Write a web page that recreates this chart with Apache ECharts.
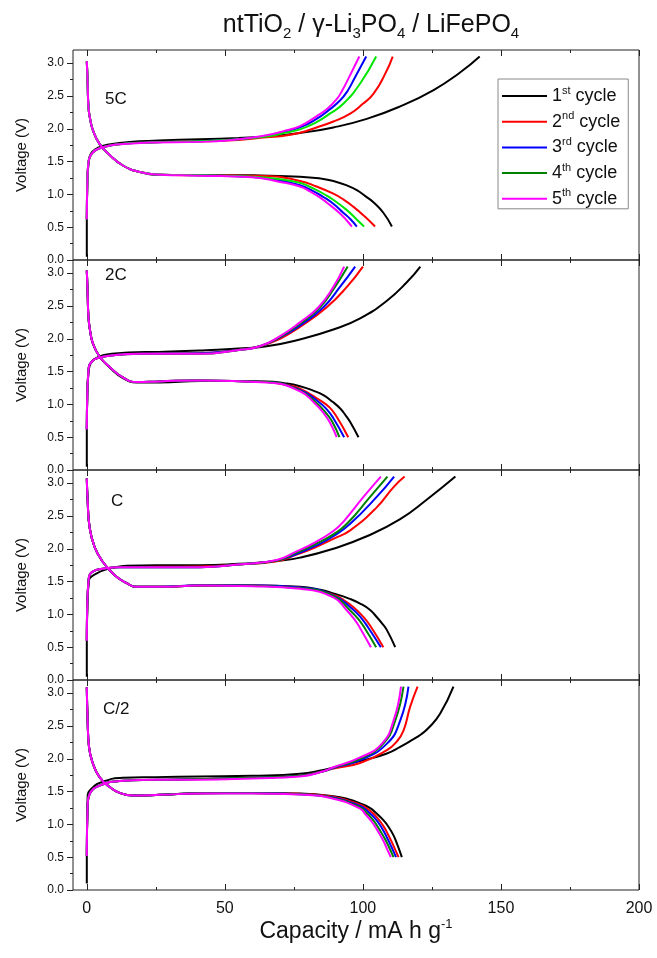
<!DOCTYPE html>
<html><head><meta charset="utf-8">
<script src="https://cdn.jsdelivr.net/npm/echarts@6/dist/echarts.min.js"></script>
<style>html,body{margin:0;padding:0;background:#fff}#c{width:657px;height:958px}</style>
</head><body><div id="c"></div>
<script>
const F = 'Liberation Sans, Arial, sans-serif';
const panels = ['5C', '2C', 'C', 'C/2'];
const cycleNames = ['1st cycle', '2nd cycle', '3rd cycle', '4th cycle', '5th cycle'];
const cycleSup = [['1','st'], ['2','nd'], ['3','rd'], ['4','th'], ['5','th']];
const xTicksMajor = [0, 50, 100, 150, 200];
const xTicksMinor = [25, 75, 125, 175];
const yTicksMajor = [0, 0.5, 1, 1.5, 2, 2.5, 3];
const yTicksMinor = [0.25, 0.75, 1.25, 1.75, 2.25, 2.75];
const colors_5C = ['#000000', '#ff0000', '#0000ff', '#00e600', '#ff00ff'];
const colors_other = ['#000000', '#ff0000', '#0000ff', '#008000', '#ff00ff'];

// ---- 5C ----
const chargeStart_5C = [[0,0.62],[0.2,1.2],[0.5,1.45],[1,1.56],[2,1.63],[3.4,1.68],[6,1.72],[10.7,1.76],[22.8,1.79]];
const dischargeStart_5C = [[0,3.03],[0.3,2.7],[0.6,2.33],[1.2,2.15],[2.2,1.98],[4.6,1.77],[8.3,1.60],[13.1,1.44],[19.2,1.34],[26.4,1.30]];
const charge_5C = [
  [[0,0.05],[0,0.6],[0.2,1.2],[0.6,1.45],[1,1.57],[2,1.65],[4.6,1.72],[8,1.76],[15.5,1.80],[26,1.82],[41,1.84],[55,1.86],[65,1.88],[77.2,1.935],[89.3,2.02],[101.4,2.15],[113.5,2.34],[125.6,2.59],[135.3,2.86],[142.3,3.10]],
  chargeStart_5C.concat([[41,1.81],[55,1.83],[65,1.87],[71,1.89],[77.2,1.94],[83.2,2.02],[89.3,2.11],[95.4,2.23],[100,2.38],[103.8,2.53],[108.1,2.84],[110.8,3.10]]),
  chargeStart_5C.concat([[41,1.81],[55,1.84],[65,1.89],[71,1.95],[77.2,2.02],[83.2,2.15],[87.5,2.28],[91.7,2.43],[94.5,2.58],[97.2,2.79],[101.2,3.10]]),
  chargeStart_5C.concat([[41,1.81],[55,1.84],[65,1.88],[71,1.93],[77.2,1.99],[83.2,2.10],[88,2.23],[92.9,2.38],[99,2.69],[104.8,3.10]]),
  chargeStart_5C.concat([[41,1.80],[55,1.84],[65,1.90],[71,1.96],[77.2,2.04],[83.2,2.19],[87,2.30],[90.5,2.45],[92.6,2.59],[94.7,2.76],[98.7,3.10]])
];
const discharge_5C = [
  dischargeStart_5C.concat([[41,1.295],[60,1.29],[77.2,1.27],[85,1.24],[89.3,1.205],[94,1.14],[97.8,1.064],[101,0.97],[103.8,0.88],[107.4,0.72],[110.5,0.51]]),
  dischargeStart_5C.concat([[41,1.29],[65.1,1.28],[77.2,1.205],[83.2,1.12],[89.3,1.01],[93,0.92],[96.6,0.81],[100.5,0.67],[104.4,0.51]]),
  dischargeStart_5C.concat([[41,1.29],[60,1.265],[70,1.21],[77.2,1.14],[82,1.05],[85.7,0.96],[89.5,0.85],[92.9,0.72],[95.5,0.62],[97.8,0.51]]),
  dischargeStart_5C.concat([[41,1.29],[60,1.27],[70,1.23],[77.2,1.175],[82,1.09],[86.9,0.98],[90.5,0.88],[94.2,0.76],[97.5,0.63],[100.4,0.51]]),
  dischargeStart_5C.concat([[41,1.285],[60,1.26],[70,1.19],[77.2,1.12],[81,1.04],[84.5,0.95],[88,0.84],[91.7,0.71],[94,0.61],[96,0.51]])
];

// ---- 2C ----
const chargeStart_2C = [[0,0.62],[0.2,1.2],[0.5,1.45],[0.8,1.58],[2,1.66],[3.4,1.70],[9.5,1.75],[20,1.77]];
const dischargeStart_2C = [[0,3.04],[0.3,2.7],[0.6,2.33],[1.2,2.12],[2.2,1.93],[4.6,1.73],[8.3,1.57],[13.1,1.41],[18,1.34],[26.4,1.35]];
const charge_2C = [
  [[0,0.05],[0,0.6],[0.2,1.2],[0.6,1.48],[1,1.58],[2,1.66],[4.6,1.73],[9,1.77],[15,1.79],[26,1.80],[41,1.82],[55,1.85],[65.1,1.885],[77.2,1.99],[89.3,2.14],[99,2.31],[108.7,2.58],[115.9,2.86],[120.8,3.10]],
  chargeStart_2C.concat([[41,1.78],[55,1.83],[62.7,1.885],[70,2.00],[77.2,2.18],[86.9,2.48],[94.2,2.79],[100,3.10]]),
  chargeStart_2C.concat([[41,1.78],[55,1.83],[62.7,1.885],[70,2.02],[77.2,2.20],[85.7,2.48],[91.7,2.79],[97.2,3.10]]),
  chargeStart_2C.concat([[41,1.77],[55,1.83],[62.7,1.885],[70,2.03],[77.2,2.23],[84.5,2.48],[89.9,2.79],[94.5,3.10]]),
  chargeStart_2C.concat([[41,1.77],[55,1.83],[62.7,1.885],[70,2.04],[77.2,2.25],[83.9,2.48],[89.3,2.79],[93.2,3.10]])
];
const discharge_2C = [
  [[0,3.04],[0.3,2.7],[0.6,2.33],[1.2,2.12],[2.2,1.93],[4.6,1.73],[8.3,1.56],[13.1,1.40],[18,1.335],[26.4,1.335],[41,1.355],[65,1.35],[72,1.32],[77.2,1.277],[82,1.21],[85.7,1.14],[89,1.04],[91.7,0.94],[93.8,0.83],[95.4,0.73],[98.4,0.50]],
  dischargeStart_2C.concat([[41,1.365],[65,1.34],[72,1.30],[77.2,1.24],[84.5,1.06],[88,0.95],[90.5,0.81],[94.7,0.50]]),
  dischargeStart_2C.concat([[41,1.365],[65,1.34],[77.2,1.22],[83.9,1.04],[87,0.92],[89.3,0.79],[93.2,0.50]]),
  dischargeStart_2C.concat([[41,1.365],[65,1.34],[77.2,1.21],[83.2,1.02],[86,0.90],[88.7,0.75],[91.5,0.50]]),
  dischargeStart_2C.concat([[41,1.365],[65,1.335],[77.2,1.20],[82.7,1.01],[85.5,0.88],[88.1,0.72],[90.5,0.50]])
];

// ---- C ----
const chargeStart_C = [[0,0.6],[0.2,1.2],[0.6,1.5],[1,1.6],[2.5,1.66],[5,1.69],[12,1.72]];
const dischargeStart_C = [[0,3.07],[0.3,2.74],[1,2.33],[2.8,2.03],[5.8,1.80],[10,1.60],[14.3,1.48],[18,1.42],[26.4,1.42]];
const charge_C = [
  [[0,0.05],[0,0.58],[0.2,1.1],[0.8,1.52],[1.5,1.57],[3.4,1.62],[6,1.67],[9.5,1.71],[14.3,1.74],[25,1.75],[41,1.75],[55,1.77],[65.1,1.80],[68.8,1.815],[77.2,1.865],[89.3,2.00],[101.4,2.19],[113.5,2.45],[123.2,2.75],[133.5,3.10]],
  chargeStart_C.concat([[41,1.73],[55,1.76],[68.8,1.81],[76,1.91],[83.2,2.03],[89.3,2.15],[95.4,2.28],[105,2.63],[111.1,2.94],[115.1,3.10]]),
  chargeStart_C.concat([[41,1.72],[55,1.76],[68.8,1.82],[76,1.92],[83.2,2.05],[89.3,2.19],[95.4,2.38],[105,2.79],[111.3,3.10]]),
  chargeStart_C.concat([[41,1.72],[55,1.76],[68.8,1.82],[76,1.94],[83.2,2.08],[89.3,2.22],[94.2,2.38],[102.6,2.79],[108.9,3.10]]),
  chargeStart_C.concat([[41,1.72],[55,1.76],[68.8,1.83],[76,1.96],[83.2,2.11],[89.3,2.27],[92.9,2.41],[100.2,2.79],[106.5,3.10]])
];
const discharge_C = [
  dischargeStart_C.concat([[41,1.44],[60,1.44],[77.2,1.42],[85,1.37],[89.3,1.32],[95,1.24],[99,1.165],[102.5,1.07],[105,0.96],[107,0.86],[108.7,0.76],[111.7,0.50]]),
  dischargeStart_C.concat([[41,1.44],[60,1.44],[77.2,1.41],[89.3,1.30],[93,1.22],[96.6,1.11],[100,0.97],[102.6,0.83],[107.4,0.50]]),
  dischargeStart_C.concat([[41,1.445],[60,1.44],[77.2,1.41],[89.3,1.29],[96,1.09],[99.5,0.94],[101.9,0.80],[106.5,0.50]]),
  dischargeStart_C.concat([[41,1.44],[60,1.435],[77.2,1.40],[89.3,1.28],[95.4,1.06],[98.5,0.92],[100.8,0.78],[104.8,0.50]]),
  dischargeStart_C.concat([[41,1.44],[60,1.43],[77.2,1.39],[89.3,1.26],[94.2,1.06],[97,0.92],[99,0.79],[102.9,0.50]])
];

// ---- C/2 ----
const chargeStart_C2 = [[0,0.52],[0.3,1.3],[1,1.46],[4.6,1.59],[11.9,1.66],[25,1.68]];
const dischargeStart_C2 = [[0,3.09],[0.3,2.58],[0.8,2.18],[2.2,1.93],[4.6,1.72],[8.3,1.57],[11.9,1.48],[16.7,1.44],[26.4,1.45]];
const charge_C2 = [
  [[0,0.1],[0,0.5],[0.3,1.42],[1.9,1.55],[5.8,1.65],[13.1,1.71],[25,1.72],[41,1.73],[60,1.74],[77.2,1.77],[85.7,1.83],[89.3,1.865],[101.4,1.99],[108.7,2.08],[113.5,2.18],[118,2.29],[121,2.37],[124,2.48],[128,2.69],[132.8,3.10]],
  chargeStart_C2.concat([[41,1.69],[60,1.71],[77.2,1.74],[85.7,1.81],[89.3,1.85],[99,1.935],[108.7,2.13],[112,2.25],[114.7,2.43],[117.1,2.79],[119.8,3.10]]),
  chargeStart_C2.concat([[41,1.69],[60,1.71],[77.2,1.74],[85.7,1.81],[89.3,1.86],[99,1.98],[108.7,2.23],[113.5,2.58],[116.5,3.10]]),
  chargeStart_C2.concat([[41,1.69],[60,1.71],[77.2,1.74],[85.7,1.81],[89.3,1.865],[99,2.00],[107.4,2.23],[111.7,2.58],[114.7,3.10]]),
  chargeStart_C2.concat([[41,1.68],[60,1.70],[77.2,1.73],[85.7,1.81],[89.3,1.87],[99,2.02],[106.9,2.23],[111.1,2.58],[113.8,3.10]])
];
const discharge_C2 = [
  dischargeStart_C2.concat([[41,1.475],[60,1.48],[77.2,1.47],[89.3,1.43],[95,1.38],[99,1.32],[102.5,1.25],[105,1.165],[107.5,1.06],[109.3,0.96],[111,0.84],[112.3,0.71],[114.1,0.50]]),
  dischargeStart_C2.concat([[41,1.475],[60,1.48],[77.2,1.465],[89.3,1.42],[99,1.30],[102.5,1.21],[105,1.11],[107.5,0.97],[109.3,0.83],[111,0.68],[112.9,0.50]]),
  dischargeStart_C2.concat([[41,1.475],[60,1.48],[77.2,1.46],[89.3,1.41],[99,1.28],[102,1.19],[104.4,1.09],[106.8,0.95],[108.7,0.80],[110.3,0.66],[112,0.50]]),
  dischargeStart_C2.concat([[41,1.475],[60,1.475],[77.2,1.46],[89.3,1.40],[99,1.26],[101.5,1.17],[103.8,1.06],[106,0.92],[108.1,0.77],[109.6,0.64],[111.1,0.50]]),
  dischargeStart_C2.concat([[41,1.47],[60,1.47],[77.2,1.455],[89.3,1.39],[99,1.24],[101,1.15],[103.2,1.04],[105.4,0.90],[107.4,0.75],[108.8,0.62],[110.1,0.50]])
];

const panelCharge = [charge_5C, charge_2C, charge_C, charge_C2];
const panelDischarge = [discharge_5C, discharge_2C, discharge_C, discharge_C2];
const panelColors = [colors_5C, colors_other, colors_other, colors_other];

const GRID_LEFT = 73, GRID_RIGHT = 18, GRID_TOP = 50, GRID_H = 210;
const AXIS_COLOR = '#222';

const grids = [], xAxes = [], yAxes = [], series = [];
panels.forEach((p, k) => {
  grids.push({left: GRID_LEFT, right: GRID_RIGHT, top: GRID_TOP + GRID_H * k, height: GRID_H,
    show: true, borderColor: AXIS_COLOR, borderWidth: 1, backgroundColor: 'transparent'});
  const xBase = {gridIndex: k, type: 'value', min: -5, max: 200,
    axisLine: {show: false, onZero: false}, splitLine: {show: false}};
  const mk = (pos, vals, len, labels) => Object.assign({}, xBase, {
    position: pos,
    axisTick: {show: true, inside: true, length: len, customValues: vals, lineStyle: {color: AXIS_COLOR, width: 1}},
    axisLabel: labels ? {show: true, customValues: vals, fontSize: 16, margin: 11, color: '#111', fontFamily: F} : {show: false}
  });
  const bottomMajor = mk('bottom', xTicksMajor, 6, k === 3);
  if (k === 3) {
    bottomMajor.name = '{n|Capacity / mA h g}{s|-1}';
    bottomMajor.nameLocation = 'middle';
    bottomMajor.nameGap = 23;
    bottomMajor.nameTextStyle = {rich: {
      n: {fontSize: 23, fontFamily: F, color: '#111', lineHeight: 27},
      s: {fontSize: 13, fontFamily: F, color: '#111', verticalAlign: 'top', lineHeight: 14}
    }};
  }
  xAxes.push(bottomMajor, mk('bottom', xTicksMinor, 3, false), mk('top', xTicksMajor, 6, false), mk('top', xTicksMinor, 3, false));
  const yBase = {gridIndex: k, type: 'value', min: 0, max: 3.2, position: 'left',
    axisLine: {show: false, onZero: false}, splitLine: {show: false}};
  yAxes.push(Object.assign({}, yBase, {
    axisTick: {show: true, inside: false, length: 6, customValues: yTicksMajor, lineStyle: {color: AXIS_COLOR}},
    axisLabel: {show: true, customValues: yTicksMajor, formatter: v => v.toFixed(1), fontSize: 12, margin: 9, color: '#111', fontFamily: F},
    name: 'Voltage (V)', nameLocation: 'middle', nameGap: 44,
    nameTextStyle: {fontSize: 15, fontFamily: F, color: '#111'}
  }), Object.assign({}, yBase, {
    axisTick: {show: true, inside: false, length: 3, customValues: yTicksMinor, lineStyle: {color: AXIS_COLOR}},
    axisLabel: {show: false}
  }));
  for (let c = 0; c < 5; c++) {
    const col = panelColors[k][c];
    [panelCharge[k][c], panelDischarge[k][c]].forEach(d => {
      series.push({type: 'line', name: cycleNames[c], xAxisIndex: 4 * k, yAxisIndex: 2 * k,
        data: d, symbol: 'none', showSymbol: false, smooth: 0.5,
        lineStyle: {width: 2, color: col}, itemStyle: {color: col}, z: 2 + c, silent: true, animation: false});
    });
  }
});

const legendData = cycleNames.map((n, c) => ({name: n, icon: 'rect',
  itemStyle: {color: colors_other[c]}}));

const panelLabelPos = [[105, 99], [105, 275], [111, 501], [103, 709]];

const option = {
  animation: false,
  textStyle: {fontFamily: F},
  grid: grids, xAxis: xAxes, yAxis: yAxes, series: series,
  legend: {
    orient: 'vertical', left: 498, top: 79, padding: [6, 8, 1, 4],
    itemWidth: 45, itemHeight: 2, itemGap: 5.7,
    borderColor: '#888', borderWidth: 1, backgroundColor: '#fff',
    data: legendData,
    formatter: name => {
      const i = cycleNames.indexOf(name);
      return '{n|' + cycleSup[i][0] + '}{s|' + cycleSup[i][1] + '}{n| cycle}';
    },
    textStyle: {rich: {
      n: {fontSize: 18, fontFamily: F, color: '#111', lineHeight: 22},
      s: {fontSize: 11, fontFamily: F, color: '#111', verticalAlign: 'top', lineHeight: 14}
    }}
  },
  graphic: [
    {type: 'text', x: 371, y: 25, z: 100, style: {
      text: '{a|ntTiO}{b|2}{a| / γ-Li}{b|3}{a|PO}{b|4}{a| / LiFePO}{b|4}',
      align: 'center', verticalAlign: 'middle', textAlign: 'center', textVerticalAlign: 'middle',
      rich: {
        a: {fontSize: 25, fontFamily: F, fill: '#111', color: '#111', lineHeight: 32},
        b: {fontSize: 15, fontFamily: F, fill: '#111', color: '#111', verticalAlign: 'bottom', lineHeight: 18}
      }
    }}
  ].concat(panels.map((p, k) => ({type: 'text', x: panelLabelPos[k][0], y: panelLabelPos[k][1], z: 100,
    style: {text: p, fontSize: 17, fontFamily: F, fill: '#111', verticalAlign: 'middle', textVerticalAlign: 'middle'}})))
};

const chart = echarts.init(document.getElementById('c'), null, {renderer: 'canvas'});
chart.setOption(option);
</script>
</body></html>
